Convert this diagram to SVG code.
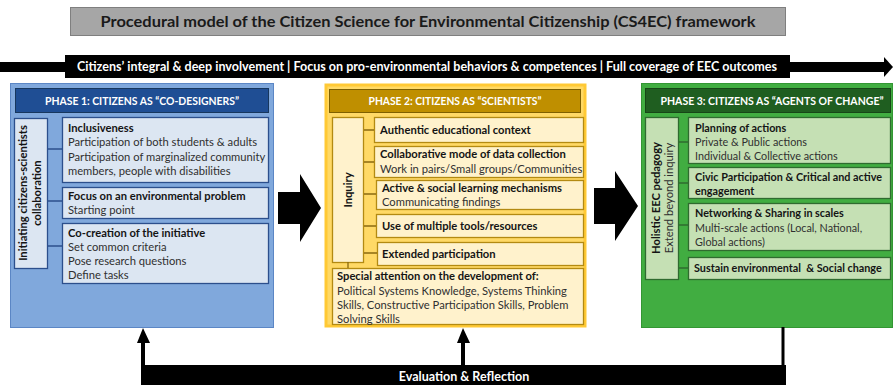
<svg xmlns="http://www.w3.org/2000/svg" width="895" height="385" viewBox="0 0 895 385">
  <style>
    text { font-family: Lato, "Liberation Sans", sans-serif; }
    .b { font-weight: bold; }
    .t { font-size: 11.2px; fill: #141414; }
    .n { font-size: 11.2px; fill: #303030; }
    .sm { font-size: 10.8px; }
    .hd { font-size: 10.5px; font-weight: bold; fill: #ffffff; text-anchor: middle; }
    .wt { fill: #ffffff; font-weight: bold; text-anchor: middle; }
    .p1 { fill: #dce6f2; stroke: #2c4f8c; stroke-width: 1.3; }
    .p2 { fill: #fff2cc; stroke: #b38a12; stroke-width: 1.3; }
    .p3 { fill: #c5e0b4; stroke: #2f6b2f; stroke-width: 1.3; }
    .s1 { stroke: #2c4f8c; stroke-width: 1.3; fill: none; }
    .s2 { stroke: #8a6a10; stroke-width: 1.3; fill: none; }
    .s3 { stroke: #2f6b2f; stroke-width: 1.3; fill: none; }
    .ln { stroke: #000000; fill: none; }
  </style>

  <!-- Title -->
  <g id="title">
    <rect x="70.5" y="7.5" width="715" height="28" fill="#a6a6a6" stroke="#7f7f7f"/>
    <text x="428" y="27" class="b" font-size="15" fill="#1a1a1a" text-anchor="middle" textLength="655" lengthAdjust="spacingAndGlyphs">Procedural model of the Citizen Science for Environmental Citizenship (CS4EC) framework</text>
  </g>

  <!-- Overarching principles band -->
  <g id="principles">
    <rect x="0" y="62" width="887" height="10" fill="#000"/>
    <polygon points="884,57 893,67 884,77" fill="#000"/>
    <rect x="65" y="55" width="725" height="23" fill="#000"/>
    <text x="427" y="71" class="wt" font-size="13" textLength="700" lengthAdjust="spacingAndGlyphs">Citizens’ integral &amp; deep involvement | Focus on pro-environmental behaviors &amp; competences | Full coverage of EEC outcomes</text>
  </g>

  <!-- Phase 1 -->
  <g id="phase1">
    <rect x="10.5" y="83.5" width="263" height="244" fill="#80a8dc" stroke="#5b86c5"/>
    <rect x="15.5" y="88.5" width="253" height="24" fill="#1f4e94" stroke="#17375e"/>
    <text x="142" y="105" class="hd" textLength="194" lengthAdjust="spacingAndGlyphs">PHASE 1: CITIZENS AS “CO-DESIGNERS”</text>

    <g id="p1-side">
      <rect x="14.5" y="118.5" width="33" height="150" class="p1"/>
      <text transform="translate(27,193) rotate(-90)" class="t b" text-anchor="middle">Initiating citizens-scientists</text>
      <text transform="translate(41,193) rotate(-90)" class="t b" text-anchor="middle">collaboration</text>
    </g>
    <g id="p1-inclusiveness">
      <rect x="62.5" y="117.5" width="206" height="65" class="p1"/>
      <text x="68" y="132" class="t b">Inclusiveness</text>
      <text x="68" y="146" class="n">Participation of both students &amp; adults</text>
      <text x="68" y="161" class="n">Participation of marginalized community</text>
      <text x="68" y="175" class="n">members, people with disabilities</text>
    </g>
    <g id="p1-focus">
      <rect x="62.5" y="187.5" width="206" height="31" class="p1"/>
      <text x="68" y="200" class="t b">Focus on an environmental problem</text>
      <text x="68" y="214" class="n">Starting point</text>
    </g>
    <g id="p1-cocreation">
      <rect x="62.5" y="223.5" width="206" height="60" class="p1"/>
      <text x="68" y="237" class="t b">Co-creation of the initiative</text>
      <text x="68" y="251" class="n">Set common criteria</text>
      <text x="68" y="265" class="n">Pose research questions</text>
      <text x="68" y="279" class="n">Define tasks</text>
    </g>
  </g>

  <!-- Phase 2 -->
  <g id="phase2">
    <rect x="326" y="85" width="259" height="241" fill="#ffd966" stroke="#ffc935" stroke-width="3"/>
    <rect x="329.5" y="89.5" width="251" height="23" fill="#bf8f00" stroke="#7f6000"/>
    <text x="455" y="105" class="hd" textLength="173" lengthAdjust="spacingAndGlyphs">PHASE 2: CITIZENS AS “SCIENTISTS”</text>

    <g id="p2-side">
      <rect x="332.5" y="117.5" width="31" height="145" class="p2"/>
      <text transform="translate(352,190) rotate(-90)" class="t b" text-anchor="middle">Inquiry</text>
    </g>
    <g id="p2-context">
      <rect x="374.5" y="117.5" width="209" height="25" class="p2"/>
      <text x="380" y="134" class="t b">Authentic educational context</text>
    </g>
    <g id="p2-collab">
      <rect x="374.5" y="146.5" width="209" height="31" class="p2"/>
      <text x="380" y="158" class="t b">Collaborative mode of data collection</text>
      <text x="380" y="173" class="n">Work in pairs/Small groups/Communities</text>
    </g>
    <g id="p2-learning">
      <rect x="376.5" y="180.5" width="207" height="29" class="p2"/>
      <text x="382" y="192" class="t b">Active &amp; social learning mechanisms</text>
      <text x="382" y="206" class="n">Communicating findings</text>
    </g>
    <g id="p2-tools">
      <rect x="376.5" y="214.5" width="207" height="23" class="p2"/>
      <text x="382" y="230" class="t b">Use of multiple tools/resources</text>
    </g>
    <g id="p2-extended">
      <rect x="377.5" y="242.5" width="206" height="23" class="p2"/>
      <text x="382" y="258" class="t b">Extended participation</text>
    </g>
    <g id="p2-skills">
      <rect x="332.5" y="268.5" width="251" height="56" class="p2"/>
      <text x="337" y="280" class="t b">Special attention on the development of:</text>
      <text x="337" y="295" class="n">Political Systems Knowledge, Systems Thinking</text>
      <text x="337" y="309" class="n">Skills, Constructive Participation Skills, Problem</text>
      <text x="337" y="323" class="n">Solving Skills</text>
    </g>
  </g>

  <!-- Phase 3 -->
  <g id="phase3">
    <rect x="641.5" y="83.5" width="251" height="244" fill="#41ad41" stroke="#339633"/>
    <rect x="645.5" y="88.5" width="245" height="24" fill="#1f5e20" stroke="#164616"/>
    <text x="772" y="105" class="hd" textLength="223" lengthAdjust="spacingAndGlyphs">PHASE 3: CITIZENS AS “AGENTS OF CHANGE”</text>

    <g id="p3-side">
      <rect x="645.5" y="117.5" width="33" height="162" class="p3"/>
      <text transform="translate(660,198) rotate(-90)" class="t b" text-anchor="middle">Holistic EEC pedagogy</text>
      <text transform="translate(673,198) rotate(-90)" class="n" text-anchor="middle">Extend beyond inquiry</text>
    </g>
    <g id="p3-planning">
      <rect x="688.5" y="117.5" width="202" height="46" class="p3"/>
      <text x="695" y="132" class="t b sm">Planning of actions</text>
      <text x="695" y="146" class="n sm">Private &amp; Public actions</text>
      <text x="695" y="160" class="n sm">Individual &amp; Collective actions</text>
    </g>
    <g id="p3-civic">
      <rect x="688.5" y="167.5" width="202" height="31" class="p3"/>
      <text x="695" y="181" class="t b sm">Civic Participation &amp; Critical and active</text>
      <text x="695" y="195" class="t b sm">engagement</text>
    </g>
    <g id="p3-networking">
      <rect x="688.5" y="203.5" width="202" height="47" class="p3"/>
      <text x="695" y="217" class="t b sm">Networking &amp; Sharing in scales</text>
      <text x="695" y="232" class="n sm">Multi-scale actions (Local, National,</text>
      <text x="695" y="246" class="n sm">Global actions)</text>
    </g>
    <g id="p3-sustain">
      <rect x="688.5" y="257.5" width="202" height="22" class="p3"/>
      <text x="694" y="272" class="t b sm" xml:space="preserve" style="white-space:pre">Sustain environmental  &amp; Social change</text>
    </g>
  </g>

  <!-- Evaluation & Reflection feedback -->
  <g id="evaluation">
    <rect x="141" y="365" width="645" height="25" fill="#000"/>
    <text x="464" y="381" class="wt" font-size="12.5">Evaluation &amp; Reflection</text>
  </g>

  <!-- Connectors -->
  <g id="connectors">
    <!-- side-box stubs, phase 1 -->
    <path class="s1" d="M48,149H62 M48,201H62 M48,246H62"/>
    <!-- side-box stubs, phase 2 -->
    <path class="s2" d="M364,130H374 M364,162H374 M364,194H376 M364,226H376 M364,253H377 M348,262V268"/>
    <!-- side-box stubs, phase 3 -->
    <path class="s3" d="M679,142H688 M679,183H688 M679,225H688 M679,268H688"/>
    <!-- phase transitions -->
    <polygon points="278,192 300,192 300,174 321,208 300,242 300,224 278,224" fill="#000"/>
    <polygon points="594,188 615,188 615,171 638,206 615,241 615,224 594,224" fill="#000"/>
    <!-- feedback loop -->
    <line class="ln" x1="783" y1="327" x2="783" y2="366" stroke-width="3"/>
    <line class="ln" x1="143" y1="385" x2="143" y2="341" stroke-width="4"/>
    <polygon points="137,343 143,328 150,343" fill="#000"/>
    <line class="ln" x1="463" y1="366" x2="463" y2="341" stroke-width="4"/>
    <polygon points="457,343 463,328 470,343" fill="#000"/>
  </g>
</svg>
